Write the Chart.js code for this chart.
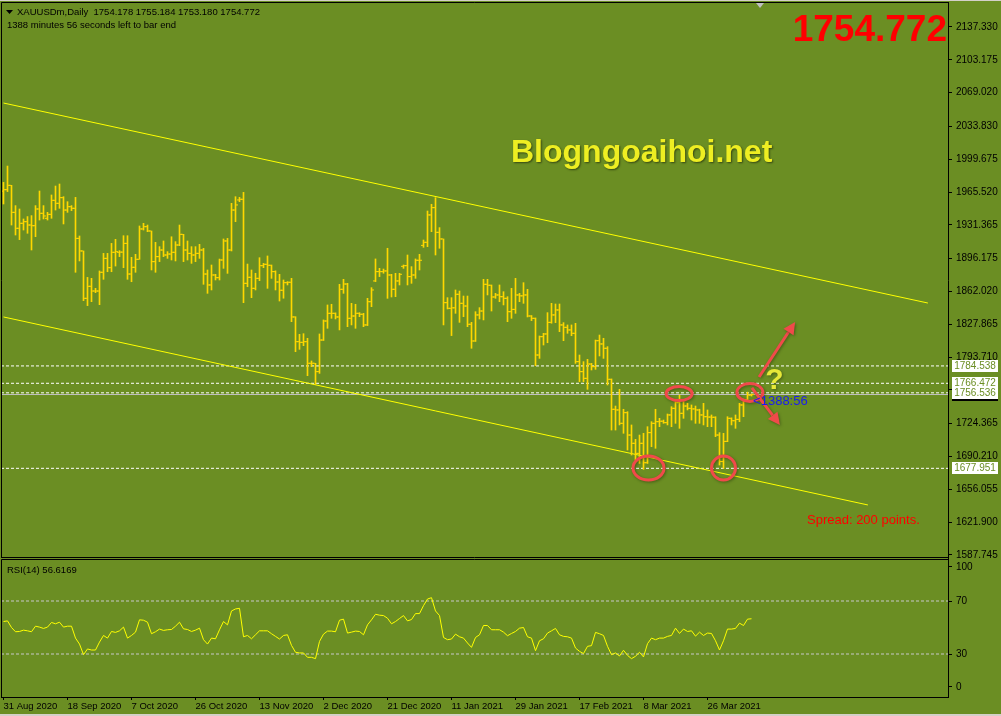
<!DOCTYPE html>
<html>
<head>
<meta charset="utf-8">
<script src="https://cdn.jsdelivr.net/npm/chart.js@4.4.1/dist/chart.umd.min.js"></script>
<style>
  html, body { margin: 0; padding: 0; background: #6B8E23; }
  #wrap { position: relative; width: 1001px; height: 716px; overflow: hidden; background: #6B8E23; }
  canvas { position: absolute; left: 0; }
  #priceCanvas { top: 0; }
  #rsiCanvas { top: 557px; }
</style>
</head>
<body>
<div id="wrap">
  <canvas id="priceCanvas" width="1001" height="560"></canvas>
  <canvas id="rsiCanvas" width="1001" height="159"></canvas>
</div>
<script>
// XAUUSDm daily bars, index 0 = 31 Aug 2020 (one bar per day incl. short Sunday bars)
const opens = [1966.5,1968,1972.5,1944.4,1927.8,1933,1934.7,1931.2,1930.5,1947.9,1943.4,1938.2,1942.3,1956.9,1953.8,1959.7,1946.8,1950.3,1948.6,1917.3,
  1904.2,1854.9,1867.4,1862.5,1862.5,1882,1896.5,1886.8,1902.8,1902.8,1903,1912.1,1880.2,1887.2,1895.5,1927.1,1929.5,1925,1893.1,1898.3,
  1905.2,1900,1901,1902.8,1910.4,1921.5,1905.2,1901.7,1900,1901.7,1905.2,1880.2,1868.8,1879.2,1876.4,1894.8,1914.6,1905.2,1946.8,1957.3,
  1958,1870.5,1876.8,1865.3,1875.7,1888.9,1890.3,1889.3,1882.7,1871.9,1863.3,1871.2,1871.6,1835.5,1809.8,1809.1,1809.8,1787.3,1787.3,1778.6,
  1811.5,1831.3,1839.3,1839.3,1835.5,1864.3,1869.8,1834.1,1836.5,1839.3,1838.3,1827.2,1851.4,1873,1882.7,1882.7,1883.4,1879.2,1864.3,1873,
  1888.2,1888.9,1877.5,1879.2,1894.5,1910,1913.2,1941.7,1949.3,1923.6,1916.7,1850.4,1844.5,1845,1859.1,1849.7,1846.9,1827.9,1810.5,1837.6,
  1841.7,1869.5,1868.5,1856.3,1858.4,1856.6,1854.9,1841,1843.4,1858.4,1857.5,1858.4,1836.5,1834.1,1795.9,1815,1817.8,1829.9,1837.6,1842.8,
  1827.2,1824.7,1822,1818.5,1789,1778.6,1771.6,1786.5,1783.8,1810.8,1807.4,1802.9,1770.6,1739.4,1738.7,1724.8,1735.9,1712.6,1704,1693.5,
  1704,1683.8,1715.1,1724.8,1726.5,1727,1725.5,1733.5,1740.4,1746.3,1735.2,1742.8,1740.4,1739.8,1738.7,1733.5,1731.7,1731.3,1731.1,1712.6,
  1685,1706,1730,1727.5,1728.9,1743.9,1749.5,1754.178];
const highs = [1975.6,1992.6,1972.5,1951.4,1947.9,1937.5,1940,1941,1951.4,1966.6,1951.4,1944.4,1962.5,1971.8,1973.9,1960.7,1955.5,1951.4,1960,1919.8,
  1904.2,1876.7,1875.7,1865.3,1883.4,1901.7,1901.7,1912.1,1916.3,1904.5,1920.1,1920.1,1897.6,1900.7,1930.2,1933,1931.2,1925,1913.2,1908.7,
  1914.6,1903.5,1919,1913.9,1931.2,1921.5,1914.6,1908.7,1908.7,1911.1,1906.9,1884.4,1889.6,1879.9,1895.8,1916.7,1917.3,1953.8,1960.7,1960,
  1965.2,1890.6,1884.4,1881,1897.2,1891.3,1899,1889.6,1883.5,1879.9,1874,1872.3,1875.7,1835.8,1817.4,1818.1,1813.3,1789.7,1787.3,1817.8,
  1832.4,1848,1848.7,1839.8,1869.5,1874.7,1870.5,1849.7,1848.7,1840,1839.3,1854.9,1866,1895.9,1886.1,1885.4,1907,1879.9,1880.9,1880.9,
  1889.6,1900,1887.9,1895.9,1900.7,1915.6,1945.8,1952.8,1959.7,1928.5,1916.7,1855.6,1855.6,1863.6,1862.5,1857.3,1857.3,1829.9,1841,1845.2,
  1874.7,1874.7,1868.8,1860.1,1868.8,1861.8,1856.6,1865.3,1875.7,1860.1,1871.2,1864.3,1837,1834.5,1815.7,1818.5,1840,1849.7,1849,1849,
  1829.6,1827.2,1827.2,1828.9,1795.9,1789,1791.4,1787.2,1811.5,1816.7,1813.3,1804.6,1771,1742.8,1760.2,1739.4,1736.9,1723.1,1708.1,1712.6,
  1714.4,1721.3,1726.5,1739.4,1730,1728.2,1734.5,1742.1,1747.3,1754.3,1747.3,1745.6,1743.9,1742.8,1739.5,1745.6,1738.7,1733.5,1731.7,1715.1,
  1714.4,1731.7,1730.5,1733.5,1745.6,1750,1757.2,1755.184];
const lows = [1953.1,1966,1931.2,1920.8,1916,1926,1922.6,1905.2,1919.1,1936.4,1937.5,1936.4,1938.2,1946.8,1948.6,1932.3,1944.4,1946.2,1882,1893.8,
  1852.5,1847.3,1851.4,1860.8,1848.3,1874.7,1882.6,1882.6,1888.5,1898.3,1886.8,1874.7,1872.2,1882,1895.5,1926,1924.3,1884.4,1882,1893.1,
  1898.3,1896.5,1894.8,1893.8,1909.7,1893.1,1894.8,1891.3,1893.1,1896.5,1869.5,1860.1,1863.6,1874,1874,1886.1,1880.9,1904.2,1934.7,1955.5,
  1850.4,1867,1855.6,1863.6,1873.3,1886.8,1865.3,1875.7,1863.6,1852.1,1855,1868.8,1830.6,1799.4,1801.8,1805.6,1774.4,1783.8,1765.4,1776.8,
  1811,1823.7,1834.1,1833.4,1822,1860.1,1825.4,1827.2,1823.7,1835.8,1825.4,1826.5,1846.2,1872.3,1877.5,1881,1854.9,1856.3,1856.6,1868.8,
  1886.1,1868.8,1870.5,1875.7,1884.4,1908,1908.7,1924.3,1900,1907,1827.2,1843.8,1816.1,1839.3,1829.9,1835.8,1825.4,1802.9,1810,1833.4,
  1832.4,1858.4,1841.7,1854.9,1851.4,1848,1830.6,1834.1,1839.3,1851.4,1849.7,1835.5,1831.7,1784.8,1792.4,1806.3,1808.7,1829,1829.6,1820.2,
  1810.8,1818.5,1816,1787.2,1768.2,1768.2,1760.2,1780.3,1781,1794.9,1792.4,1764.7,1717.8,1717.8,1723.1,1714.4,1697,1691.8,1686.6,1683.1,
  1676.9,1683,1700.5,1698.8,1721.3,1724.8,1723.1,1721.3,1724.8,1719.6,1730,1738.7,1728.2,1724.8,1724.8,1723.1,1721.3,1721.3,1710.9,1681.4,
  1677.9,1705.7,1723.1,1719.6,1726.5,1731.7,1747.5,1753.18];
const closes = [1968,1972.5,1944.4,1927.8,1933,1934.7,1931.2,1930.5,1947.9,1943.4,1940.6,1942.3,1956.9,1953.8,1959.7,1946.8,1950.3,1948.6,1917.3,1904.2,
  1854.9,1867.4,1862.5,1862.5,1882,1896.5,1886.8,1902.8,1903.5,1903,1912.1,1880.2,1887.2,1895.5,1927.1,1929.5,1925,1893.1,1898.3,1905.2,
  1900,1901,1902.8,1910.4,1921.5,1905.2,1901.7,1900,1901.7,1905.2,1880.2,1868.8,1879.2,1876.4,1894.8,1914.6,1905.2,1946.8,1952.1,1958,
  1870.5,1876.8,1865.3,1875.7,1888.9,1890.3,1889.3,1882.7,1871.9,1863.3,1871.2,1871.6,1835.5,1809.8,1809.1,1809.8,1787.3,1787.3,1778.6,1811.5,
  1831.3,1839.3,1839.3,1835.5,1864.3,1869.8,1834.1,1836.5,1839.3,1838.3,1827.2,1851.4,1863.6,1882.7,1882.7,1883.4,1879.2,1864.3,1873,1879.9,
  1888.9,1877.5,1879.2,1894.5,1894.5,1913.2,1941.7,1949.3,1923.6,1916.7,1850.4,1844.5,1845,1859.1,1849.7,1846.9,1827.9,1810.5,1837.6,1841.7,
  1869.5,1868.5,1856.3,1858.4,1856.6,1854.9,1841,1843.4,1858.4,1857.5,1858.4,1836.5,1834.1,1795.9,1815,1817.8,1829.9,1837.6,1842.8,1827.2,
  1824.7,1822,1818.5,1789,1778.6,1771.6,1786.5,1783.8,1810.8,1807.4,1802.9,1770.6,1739.4,1738.7,1724.8,1735.9,1712.6,1704,1693.5,1704,
  1683.8,1715.1,1724.8,1726.5,1727,1725.5,1733.5,1740.4,1746.3,1735.2,1742.8,1740.4,1739.8,1738.7,1733.5,1731.7,1731.3,1731.1,1712.6,1685,
  1706,1730,1727.5,1728.9,1743.9,1749.5,1754.2,1754.772];

// RSI(14)
const rsiValues = [54.5,55,50,46.8,47,48,47.5,46.8,51,50.3,49.3,50.3,53.8,52.8,54,50.3,51,51,42,37.5,
  29.5,33.8,33,33,39,44,42,47,46.3,47.5,50.3,42,44,46.5,55.8,55.5,54,45.3,46.8,48.8,
  47.8,48.3,48.5,51,54,49,48.5,47,48,49.5,40.8,37.5,42,41.5,48.3,54.5,52,62.5,64,64.5,
  43,44,41.5,44.5,47.5,47.5,47.5,45.3,43.3,41.3,44,44.5,36.5,31.3,30.8,30.8,27.5,27.5,26.5,39.5,
  45,47.3,47.3,46.8,55.5,56.3,45.8,46.5,47.3,47,44.5,52,55.8,60,59.3,59,57,52.8,54.5,56.8,
  59,55,56,60.5,60.5,66.5,71.5,72.5,62.5,59,42.5,40.8,41.3,45,43,42,38.3,35,42.5,44.5,
  51.5,51.5,48.3,48.3,48.3,46.5,43.8,45.5,47,49.5,50,43,42,32.5,40,41.5,45.8,47.5,49.3,44.5,
  43.3,43,42,34.5,32,30.3,35.8,36.3,46.3,45.3,44,35.8,29.5,30.8,28.5,32.8,29,26.5,28.3,31.3,
  27.8,37.8,42,40.8,42,42,43.3,44,49.5,45.5,48.8,47,47.5,43.5,46.5,44,45.8,45.5,40,33,
  40,48.8,48.8,49.3,53.3,51.5,56.3,56.6];

const xTickIndex = [0, 16, 32, 48, 64, 80, 96, 112, 128, 144, 160, 176];
const xTickLabels = ['31 Aug 2020', '18 Sep 2020', '7 Oct 2020', '26 Oct 2020', '13 Nov 2020', '2 Dec 2020',
  '21 Dec 2020', '11 Jan 2021', '29 Jan 2021', '17 Feb 2021', '8 Mar 2021', '26 Mar 2021'];
const priceTicks = [2137.330, 2103.175, 2069.020, 2033.830, 1999.675, 1965.520, 1931.365, 1896.175, 1862.020,
  1827.865, 1793.710, 1759.555, 1724.365, 1690.210, 1656.055, 1621.900, 1587.745];
// MT4 pulls the 100 / 0 captions inside the window, so they sit a little off the true level
const rsiTickValues = [95.7, 70, 30, 5.1];
const rsiTickLabels = ['100', '70', '30', '0'];
const rsiLevels = [70, 30];

// horizontal lines and trend channel
const levelPrices = [1784.538, 1766.472, 1756.536, 1677.951];
const bidPrice = 1754.772;
const upperChannel = [{ x: 0, y: 2058.2 }, { x: 231.1, y: 1850.0 }];
const lowerChannel = [{ x: 0, y: 1835.5 }, { x: 216.1, y: 1639.8 }];

// hand drawn marks, in bar index / price
const redRings = [
  { i: 168.9, p: 1755.8, rx: 13, ry: 7 },
  { i: 186.6, p: 1756.9, rx: 13, ry: 9 },
  { i: 161.25, p: 1678.3, rx: 15.5, ry: 12 },
  { i: 180.0, p: 1678.3, rx: 12, ry: 12 }
];
const redArrows = [
  { from: [188.9, 1773.0], to: [197.9, 1830.3] },
  { from: [187.1, 1761.6], to: [194.1, 1723.0] }
];

const X_MIN = -0.625, X_MAX = 236.125;
const BAR = '#FFD700';
const FONT = 'Liberation Sans';

function tick(list, shift) {
  return list.map((v, i) => ({ x: i + shift, y: v }));
}
function flat(v) {
  return [{ x: X_MIN, y: v }, { x: X_MAX, y: v }];
}

const overlay = {
  id: 'overlay',
  afterDatasetsDraw(chart) {
    const { ctx, scales: { x, y } } = chart;
    ctx.save();
    ctx.shadowColor = 'rgba(0,0,0,0.35)';
    ctx.shadowBlur = 3;
    ctx.shadowOffsetX = 1;
    ctx.shadowOffsetY = 1;
    ctx.strokeStyle = '#F04A4A';
    ctx.fillStyle = '#F04A4A';
    ctx.lineWidth = 3;
    redRings.forEach(r => {
      ctx.beginPath();
      ctx.ellipse(x.getPixelForValue(r.i), y.getPixelForValue(r.p), r.rx, r.ry, 0, 0, Math.PI * 2);
      ctx.stroke();
    });
    redArrows.forEach(a => {
      const x0 = x.getPixelForValue(a.from[0]), y0 = y.getPixelForValue(a.from[1]);
      const x1 = x.getPixelForValue(a.to[0]), y1 = y.getPixelForValue(a.to[1]);
      const ang = Math.atan2(y1 - y0, x1 - x0);
      const hl = 12, hw = 6;
      const bx = x1 - Math.cos(ang) * hl, by = y1 - Math.sin(ang) * hl;
      ctx.beginPath();
      ctx.moveTo(x0, y0);
      ctx.lineTo(bx, by);
      ctx.stroke();
      ctx.beginPath();
      ctx.moveTo(x1, y1);
      ctx.lineTo(bx + Math.sin(ang) * hw, by - Math.cos(ang) * hw);
      ctx.lineTo(bx - Math.sin(ang) * hw, by + Math.cos(ang) * hw);
      ctx.closePath();
      ctx.fill();
    });
    // question mark next to the breakout
    ctx.font = 'bold 30px ' + FONT;
    ctx.fillStyle = '#E8E838';
    ctx.textAlign = 'center';
    ctx.textBaseline = 'middle';
    ctx.fillText('?', x.getPixelForValue(192.75), y.getPixelForValue(1768.9));
    ctx.restore();

    ctx.save();
    ctx.font = '13px ' + FONT;
    ctx.fillStyle = '#1C1CF0';
    ctx.textBaseline = 'middle';
    ctx.fillText('<1388:56', x.getPixelForValue(187.4), y.getPixelForValue(1747.3));
    ctx.restore();
  },
  afterDraw(chart) {
    const { ctx, chartArea: a, scales: { y } } = chart;
    ctx.save();
    // window frame
    ctx.fillStyle = '#D4D0C8';
    ctx.fillRect(0, 0, 1001, 1);
    ctx.strokeStyle = '#000000';
    ctx.lineWidth = 1;
    ctx.beginPath();
    ctx.moveTo(a.left + 0.5, a.bottom);
    ctx.lineTo(a.left + 0.5, a.top + 0.5);
    ctx.lineTo(a.right, a.top + 0.5);
    ctx.moveTo(a.left, a.bottom - 0.5);
    ctx.lineTo(a.right, a.bottom - 0.5);
    ctx.stroke();
    // shift marker
    ctx.fillStyle = '#C0C0C0';
    ctx.beginPath();
    ctx.moveTo(756, 3); ctx.lineTo(764, 3); ctx.lineTo(760, 8); ctx.closePath();
    ctx.fill();

    // price boxes on the axis
    ctx.font = '10px ' + FONT;
    ctx.textAlign = 'center';
    ctx.textBaseline = 'middle';
    const box = (v, bg, fg) => {
      const py = y.getPixelForValue(v);
      ctx.fillStyle = bg;
      ctx.fillRect(952, Math.round(py) - 6, 46, 12);
      ctx.fillStyle = fg;
      ctx.fillText(v.toFixed(3), 975, py);
    };
    box(bidPrice, '#000000', '#FFFFFF');
    levelPrices.forEach(v => box(v, '#FFFFFF', '#6B8E23'));

    // header
    ctx.textAlign = 'left';
    ctx.fillStyle = '#000000';
    ctx.beginPath();
    ctx.moveTo(6, 10); ctx.lineTo(13, 10); ctx.lineTo(9.5, 14); ctx.closePath();
    ctx.fill();
    ctx.font = '9.5px ' + FONT;
    ctx.fillText('XAUUSDm,Daily  1754.178 1755.184 1753.180 1754.772', 17, 12.5);
    ctx.fillText('1388 minutes 56 seconds left to bar end', 7, 25);

    ctx.font = 'bold 37px ' + FONT;
    ctx.fillStyle = '#FF0000';
    ctx.textAlign = 'right';
    ctx.textBaseline = 'alphabetic';
    ctx.fillText('1754.772', 947, 41);

    ctx.font = 'bold 32px ' + FONT;
    ctx.textAlign = 'left';
    ctx.shadowColor = 'rgba(0,0,0,0.5)';
    ctx.shadowBlur = 2;
    ctx.shadowOffsetX = 1;
    ctx.shadowOffsetY = 1;
    ctx.fillStyle = '#EEEE22';
    ctx.fillText('Blogngoaihoi.net', 511, 162);
    ctx.shadowColor = 'transparent';

    ctx.font = '13px ' + FONT;
    ctx.fillStyle = '#FF0000';
    ctx.textBaseline = 'middle';
    ctx.fillText('Spread: 200 points.', 807, 520);
    ctx.restore();
  }
};

new Chart(document.getElementById('priceCanvas'), {
  type: 'bar',
  data: {
    datasets: [
      { type: 'bar', data: highs.map((h, i) => ({ x: i, y: [lows[i], h] })), backgroundColor: BAR,
        barThickness: 1, borderWidth: 0, order: 1 },
      { type: 'line', data: tick(opens, -0.375), showLine: false, pointStyle: 'line', pointRadius: 1,
        pointHoverRadius: 1, borderColor: BAR, pointBorderWidth: 1, order: 1 },
      { type: 'line', data: tick(closes, 0.375), showLine: false, pointStyle: 'line', pointRadius: 1,
        pointHoverRadius: 1, borderColor: BAR, pointBorderWidth: 1, order: 1 },
      { type: 'line', data: upperChannel, borderColor: '#FFFF00', borderWidth: 1, pointRadius: 0, order: 2 },
      { type: 'line', data: lowerChannel, borderColor: '#FFFF00', borderWidth: 1, pointRadius: 0, order: 2 },
      ...levelPrices.map(v => ({ type: 'line', data: flat(v), borderColor: '#FFFFFF', borderWidth: 1,
        borderDash: [3, 2], pointRadius: 0, order: 3 })),
      { type: 'line', data: flat(bidPrice), borderColor: '#C0C0C0', borderWidth: 1, pointRadius: 0, order: 3 }
    ]
  },
  options: {
    responsive: false,
    animation: false,
    events: [],
    layout: { autoPadding: false, padding: { left: 1, top: 2, right: 0, bottom: 2 } },
    plugins: { legend: { display: false }, tooltip: { enabled: false } },
    scales: {
      x: { type: 'linear', min: X_MIN, max: X_MAX, display: false, offset: false, grid: { offset: false } },
      y: {
        type: 'linear', position: 'right', min: 1584.61, max: 2163.35,
        border: { display: true, color: '#000000', width: 1 },
        grid: { drawOnChartArea: false, drawTicks: true, tickLength: 4, color: '#000000' },
        ticks: { color: '#000000', font: { family: FONT, size: 10 }, padding: 4, autoSkip: false,
          callback: v => Number(v).toFixed(3) },
        afterBuildTicks: s => { s.ticks = priceTicks.map(v => ({ value: v })); },
        afterFit: s => { s.width = 53; s.paddingTop = 0; s.paddingBottom = 0; }
      }
    }
  },
  plugins: [overlay]
});

const rsiFrame = {
  id: 'rsiFrame',
  afterDraw(chart) {
    const { ctx, chartArea: a } = chart;
    ctx.save();
    ctx.strokeStyle = '#000000';
    ctx.lineWidth = 1;
    ctx.beginPath();
    ctx.moveTo(a.left + 0.5, a.bottom);
    ctx.lineTo(a.left + 0.5, a.top + 0.5);
    ctx.lineTo(a.right, a.top + 0.5);
    ctx.stroke();
    ctx.fillStyle = '#000000';
    ctx.font = '9.5px ' + FONT;
    ctx.textBaseline = 'middle';
    ctx.fillText('RSI(14) 56.6169', 7, a.top + 11);
    ctx.fillStyle = '#D4D0C8';
    ctx.fillRect(0, 157, 1001, 2);
    ctx.restore();
  }
};

new Chart(document.getElementById('rsiCanvas'), {
  type: 'line',
  data: {
    datasets: [
      { data: rsiValues.map((v, i) => ({ x: i, y: v })), borderColor: '#FFFF00', borderWidth: 1,
        pointRadius: 0, pointHoverRadius: 0, tension: 0, order: 1 },
      ...rsiLevels.map(v => ({ data: flat(v), borderColor: '#C8C8C8', borderWidth: 1, borderDash: [3, 2],
        pointRadius: 0, pointHoverRadius: 0, order: 2 }))
    ]
  },
  options: {
    responsive: false,
    animation: false,
    events: [],
    layout: { autoPadding: false, padding: { left: 1, top: 2, right: 0, bottom: 0 } },
    plugins: { legend: { display: false }, tooltip: { enabled: false } },
    scales: {
      x: {
        type: 'linear', min: X_MIN, max: X_MAX, offset: false,
        border: { display: true, color: '#000000', width: 1 },
        grid: { drawOnChartArea: false, drawTicks: true, tickLength: 3, color: '#000000', offset: false },
        ticks: { color: '#000000', font: { family: FONT, size: 9.5 }, padding: 1, align: 'start',
          maxRotation: 0, autoSkip: false, callback: (v, i) => xTickLabels[i] },
        afterBuildTicks: s => { s.ticks = xTickIndex.map(v => ({ value: v })); },
        afterFit: s => { s.height = 19; s.paddingLeft = 0; s.paddingRight = 0; }
      },
      y: {
        type: 'linear', position: 'right', min: -2.45, max: 101.7,
        border: { display: true, color: '#000000', width: 1 },
        grid: { drawOnChartArea: false, drawTicks: true, tickLength: 4, color: '#000000' },
        ticks: { color: '#000000', font: { family: FONT, size: 10 }, padding: 4, autoSkip: false,
          callback: (v, i) => rsiTickLabels[i] },
        afterBuildTicks: s => { s.ticks = rsiTickValues.map(v => ({ value: v })); },
        afterFit: s => { s.width = 53; s.paddingTop = 0; s.paddingBottom = 0; }
      }
    }
  },
  plugins: [rsiFrame]
});
</script>
</body>
</html>
